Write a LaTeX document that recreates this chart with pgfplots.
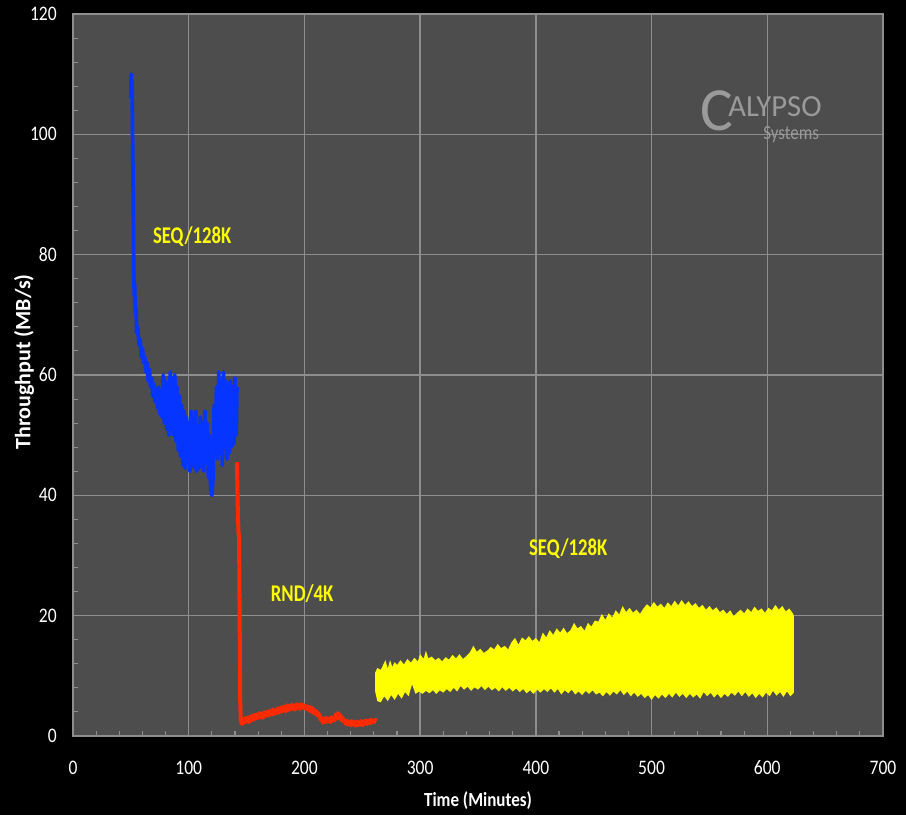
\documentclass[border=0pt]{standalone}
\usepackage{pgfplots}
\pgfplotsset{compat=1.18}
\usepackage{fontspec}
\setmainfont{Carlito}
\newfontfamily\condfont[FakeStretch=0.85]{Carlito}
\newfontfamily\annfont[FakeStretch=0.78]{Carlito}

\definecolor{plotgray}{HTML}{4D4D4D}
\definecolor{gridgray}{HTML}{8E8E8E}
\definecolor{seqblue}{HTML}{0535FF}
\definecolor{rndred}{HTML}{FF2A00}
\definecolor{seqyellow}{HTML}{FFFF00}
\definecolor{logogray}{HTML}{9A9A9A}

\begin{document}
\begin{tikzpicture}[x=0.75pt,y=0.75pt]
% page background
\fill[black] (0,0) rectangle (906,815);

\begin{axis}[
  at={(54.75pt,59.25pt)}, anchor=south west,
  scale only axis, width=607.5pt, height=541.5pt,
  xmin=0, xmax=700, ymin=0, ymax=120,
  xtick={0,100,...,700}, ytick={0,20,...,120},
  minor x tick num=4, minor y tick num=4,
  tick pos=left, tick align=inside,
  major tick length=0pt, minor tick length=3.5pt,
  minor tick style={gridgray, line width=0.8pt},
  axis background/.style={fill=plotgray},
  axis line style={gridgray, line width=1pt},
  grid=major, major grid style={gridgray, line width=1.1pt},
  /pgf/number format/assume math mode=true,
  tick label style={white, font=\condfont\fontsize{15.5}{17}\selectfont, inner sep=0pt},
  xticklabel style={anchor=center, yshift=-24pt},
  yticklabel style={anchor=east, xshift=-12pt},
  clip=false,
]

% sequential 128K, first phase
\addplot[seqblue, line width=2.8pt, line join=round] coordinates {
(50,106) (50.3,110) (50.7,108) (51,109) (51.3,104) (51.6,98) (52,90) (52.3,82)
(52.6,76) (53,73) (53.3,75) (53.6,72) (54,70) (54.5,71) (55,67) (56,68) (57,65)
(58,66) (59,63) (60,64.5) (61,62) (62,63) (63,60.5) (64,62) (65,59) (66,61)
(67,58) (68,59.5) (69,56.5) (70,58.5) (71,55.5) (72,57.5) (73,54.5) (74,58)
(75,53.5) (76,57) (77,53) (78,60) (79,52) (80,59) (81,51) (82,58.5) (83,50)
(84,60.5) (85,51) (86,59.5) (87,50) (88,60) (89,49) (90,58) (91,47.5) (92,56.5)
(93,46.5) (94,55) (95,45) (96,54) (97,44.5) (98,53) (99,45.5) (100,52) (101,44)
(102,54) (103,45) (104,52.5) (105,44.5) (106,54) (107,44) (108,51) (109,44.5)
(110,53) (111,45) (112,52) (113,44) (114,54) (115,45.5) (116,52) (117,43)
(118,50) (119,41) (120,40) (121,43) (122,55) (123,47) (124,58) (125,46)
(126,60.5) (127,47) (128,59) (129,45) (130,60.5) (131,48) (132,59) (133,46)
(134,58.5) (135,47) (136,59) (137,48) (138,58) (139,48.5) (140,59.5) (141,50)
(141.7,58)
};

% random 4K
\addplot[rndred, line width=3pt, line join=round] coordinates {
(141.7,45.5) (142,42) (142.5,37) (143,34) (143.5,33) (144,20) (144.5,6) (145,2.5)
(146,2.0) (147,2.8) (148,2.2) (149,3.0) (150,2.4) (151,3.1) (152,2.3) (153,3.2)
(154,2.6) (155,3.4) (156,2.7) (157,3.5) (158,2.9) (159,3.6) (160,3.0) (161,3.8)
(162,3.1) (163,3.7) (164,3.0) (165,3.9) (166,3.3) (167,4.0) (168,3.4) (169,4.1)
(170,3.5) (171,4.2) (172,3.6) (173,4.4) (174,3.7) (175,4.3) (176,3.8) (177,4.6)
(178,3.9) (179,4.7) (180,4.0) (181,4.8) (182,4.2) (183,4.9) (184,4.1) (185,5.1)
(186,4.3) (187,5.0) (188,4.4) (189,5.2) (190,4.5) (191,5.0) (192,4.4) (193,5.3)
(194,4.6) (195,5.1) (196,4.5) (197,5.3) (198,4.7) (199,5.2) (200,4.6) (201,5.0)
(202,4.5) (203,4.9) (204,4.2) (205,4.8) (206,4.1) (207,4.6) (208,3.8) (209,4.3)
(210,3.6) (211,4.0) (212,3.3) (213,3.6) (214,2.7) (215,3.0) (216,2.2) (217,2.9)
(218,2.3) (219,3.0) (220,2.4) (221,2.9) (222,2.3) (223,3.1) (224,2.5) (225,3.0)
(226,2.6) (227,3.6) (228,2.9) (229,3.8) (230,3.0) (231,3.5) (232,2.6) (233,3.0)
(234,2.4) (235,2.6) (236,2.0) (237,2.5) (238,1.9) (239,2.4) (240,1.8) (241,2.5)
(242,1.9) (243,2.3) (244,1.7) (245,2.4) (246,1.8) (247,2.3) (248,1.9) (249,2.5)
(250,1.8) (251,2.4) (252,2.0) (253,2.6) (254,2.0) (255,2.5) (256,2.1) (257,2.7)
(258,2.2) (259,2.6) (260,2.3) (261,2.7) (262,2.5)
};

% sequential 128K, second phase: envelope of the fast oscillation
\addplot[draw=none, fill=seqyellow] coordinates {
(261,10.5) (263,11.3) (266,11.0) (268,11.8) (270,12.6) (272,11.2) (274,12.6)
(276,11.5) (278,12.3) (280,11.8) (283,12.6) (286,11.9) (289,12.8) (292,12.2)
(295,13.0) (298,12.4) (300,13.6) (303,12.8) (305,14.2) (307,12.9) (310,13.2)
(313,12.6) (316,13.0) (319,12.4) (322,13.1) (325,12.7) (328,13.5) (331,12.9)
(334,13.6) (337,12.8) (340,13.3) (343,13.9) (346,15.0) (349,14.0) (352,14.5)
(355,13.8) (358,14.2) (361,14.8) (364,14.4) (367,15.3) (370,14.6) (373,15.0)
(376,14.4) (379,15.6) (382,16.3) (385,15.2) (388,16.4) (391,15.9) (394,16.6)
(397,15.8) (400,16.3) (403,15.6) (406,17.2) (409,16.4) (412,17.6) (415,16.8)
(418,17.9) (421,17.2) (424,18.0) (427,17.1) (430,17.6) (433,18.8) (436,17.9)
(439,18.3) (442,17.5) (445,18.8) (448,18.2) (451,19.2) (454,19.0) (457,20.3)
(460,19.3) (463,20.4) (466,19.7) (469,20.9) (472,20.2) (475,21.6) (478,20.6)
(481,21.3) (484,20.5) (487,21.0) (490,20.3) (493,21.2) (496,21.9) (499,21.4)
(502,22.3) (505,21.5) (508,22.0) (511,21.3) (514,22.2) (517,21.6) (520,22.5)
(523,21.7) (526,22.6) (529,21.8) (532,22.4) (535,21.6) (538,22.1) (541,21.3)
(544,21.8) (547,21.0) (550,21.6) (553,20.9) (556,21.4) (559,20.6) (562,21.0)
(565,20.3) (568,20.9) (571,19.9) (574,20.5) (577,21.0) (580,20.4) (583,21.2)
(586,20.6) (589,21.5) (592,20.8) (595,21.2) (598,20.5) (601,21.3) (604,20.9)
(607,21.8) (610,21.0) (613,21.6) (616,20.7) (619,21.2) (622,20.4) (623,20.0)
(623,7.2) (620,6.6) (617,7.4) (614,6.5) (611,7.3) (608,6.7) (605,7.5) (602,6.6)
(599,7.2) (596,6.4) (593,7.0) (590,6.3) (587,7.1) (584,6.5) (581,7.3) (578,6.6)
(575,7.4) (572,6.7) (569,7.2) (566,6.5) (563,7.0) (560,6.3) (557,7.0) (554,6.4)
(551,7.2) (548,6.6) (545,7.3) (542,6.2) (539,6.9) (536,6.4) (533,7.0) (530,6.3)
(527,7.0) (524,6.5) (521,7.2) (518,6.4) (515,7.0) (512,6.3) (509,6.9) (506,6.2)
(503,6.8) (500,6.0) (497,6.8) (494,6.3) (491,7.0) (488,6.5) (485,7.2) (482,6.6)
(479,7.4) (476,6.8) (473,7.6) (470,6.9) (467,7.4) (464,6.7) (461,7.3) (458,6.6)
(455,7.2) (452,6.9) (449,7.6) (446,7.0) (443,7.5) (440,6.8) (437,7.4) (434,6.9)
(431,7.7) (428,7.1) (425,7.6) (422,6.9) (419,7.8) (416,7.2) (413,7.9) (410,7.3)
(407,7.8) (404,7.2) (401,7.7) (398,7.0) (395,7.6) (392,7.1) (389,7.8) (386,7.3)
(383,7.9) (380,7.4) (377,8.0) (374,7.5) (371,8.1) (368,7.4) (365,8.0) (362,7.6)
(359,8.2) (356,7.6) (353,8.3) (350,7.7) (347,8.1) (344,7.5) (341,8.2) (338,7.7)
(335,8.3) (332,7.4) (329,8.0) (326,7.3) (323,7.8) (320,7.2) (317,7.6) (314,7.0)
(311,7.6) (308,7.1) (305,7.5) (302,7.0) (299,7.4) (296,7.0) (293,8.6) (290,6.6)
(287,7.3) (284,6.2) (281,7.0) (278,6.0) (275,6.8) (272,5.8) (269,6.6) (266,5.6)
(263,5.8) (261,7.5)
} -- cycle;

% phase annotations
\node[seqyellow, font=\annfont\bfseries\fontsize{18}{20}\selectfont] at (axis cs:103,83) {SEQ/128K};
\node[seqyellow, font=\annfont\bfseries\fontsize{18}{20}\selectfont] at (axis cs:198,23.6) {RND/4K};
\node[seqyellow, font=\annfont\bfseries\fontsize{18}{20}\selectfont] at (axis cs:428,31.2) {SEQ/128K};
\end{axis}

% vendor logo
\node[logogray, anchor=base west, inner sep=0pt, font=\fontsize{46}{46}\selectfont] at (700,684) {C};
\node[logogray, anchor=base west, inner sep=0pt, font=\fontsize{23}{23}\selectfont] at (728,698) {ALYPSO};
\node[logogray, anchor=base west, inner sep=0pt, font=\condfont\fontsize{15}{15}\selectfont] at (763,675) {Systems};

% axis titles
\node[white, font=\bfseries\condfont\fontsize{15}{17}\selectfont] at (478,14) {Time (Minutes)};
\node[white, rotate=90, font=\bfseries\fontsize{16.5}{18}\selectfont] at (24,453) {Throughput (MB/s)};

\pgfresetboundingbox
\path (0,0) rectangle (906,815);
\end{tikzpicture}
\end{document}
